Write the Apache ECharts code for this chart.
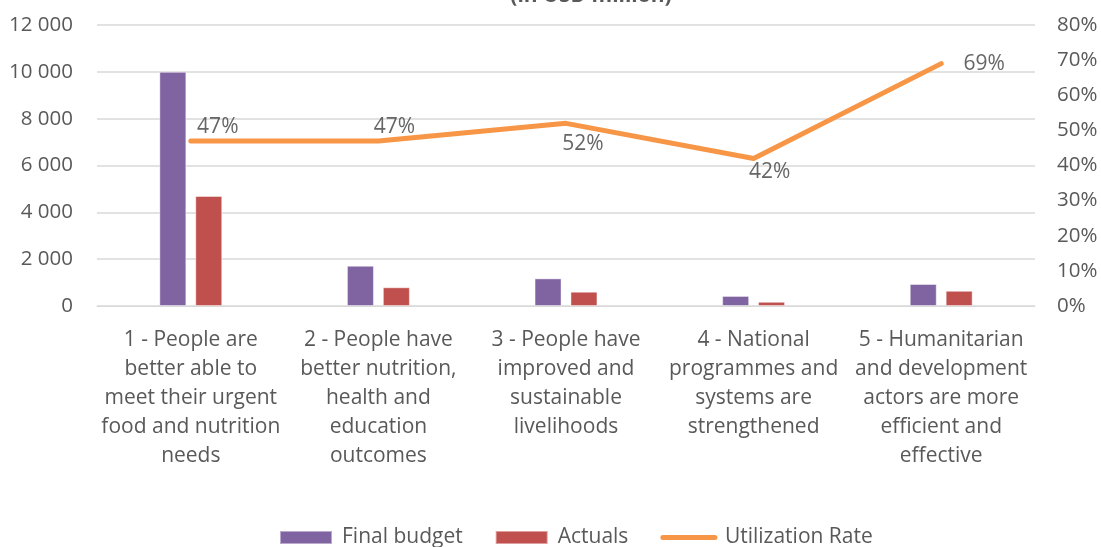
<!DOCTYPE html>
<html>
<head>
<meta charset="utf-8">
<title>Budget and actuals by strategic outcome</title>
<script src="https://cdn.jsdelivr.net/npm/echarts@6/dist/echarts.min.js"></script>
<style>
  html, body { margin: 0; padding: 0; background: #fff; }
  #chart { width: 1101px; height: 547px; }
</style>
</head>
<body>
<div id="chart"></div>
<script>
// Strategic outcomes (line breaks as wrapped under the axis)
const categories = [
  '1 - People are\nbetter able to\nmeet their urgent\nfood and nutrition\nneeds',
  '2 - People have\nbetter nutrition,\nhealth and\neducation\noutcomes',
  '3 - People have\nimproved and\nsustainable\nlivelihoods',
  '4 - National\nprogrammes and\nsystems are\nstrengthened',
  '5 - Humanitarian\nand development\nactors are more\nefficient and\neffective'
];

// USD million
const finalBudget = [10000, 1720, 1180, 430, 940];
const actuals = [4700, 800, 610, 180, 650];

// Utilization rate, percent
const utilizationRate = [47, 47, 52, 42, 69];

// Tick values of the two value axes
const leftTicks = { min: 0, max: 12000, interval: 2000 };
const rightTicks = { min: 0, max: 80, interval: 10 };

// Label placement around each rate point, [dx, dy] in pixels
const rateLabelOffsets = [[27, -14], [16, -14], [17, 21], [16, 14], [43, 0]];

const FONT = '"Open Sans", "Noto Sans", sans-serif';
const TEXT = '#595959';
const RATE_COLOR = '#F79646';

function spaced(v) {
  return String(v).replace(/\B(?=(\d{3})+(?!\d))/g, ' ');
}

const chart = echarts.init(document.getElementById('chart'), null, { renderer: 'canvas' });

chart.setOption({
  animation: false,
  textStyle: { fontFamily: FONT },
  title: {
    text: '(in USD million)',
    left: 586,
    textAlign: 'center',
    top: -19,
    textStyle: { fontFamily: FONT, fontSize: 21, fontWeight: 'bold', color: TEXT }
  },
  grid: { left: 97, right: 66, top: 25, bottom: 241, containLabel: false },
  legend: {
    left: 274,
    top: 522,
    itemWidth: 52,
    itemHeight: 13,
    itemGap: 32,
    textStyle: { fontFamily: FONT, fontSize: 21, color: TEXT, padding: [0, 0, 0, 5] },
    data: [
      { name: 'Final budget', icon: 'rect' },
      { name: 'Actuals', icon: 'rect' },
      {
        name: 'Utilization Rate',
        lineStyle: { width: 5, cap: 'round' },
        itemStyle: { color: 'rgba(0,0,0,0)', borderWidth: 0, opacity: 0 }
      }
    ]
  },
  xAxis: {
    type: 'category',
    data: categories,
    axisLine: { show: true, lineStyle: { color: '#d9d9d9', width: 1 } },
    axisTick: { show: false },
    axisLabel: {
      interval: 0,
      margin: 20,
      fontFamily: FONT,
      fontSize: 21,
      lineHeight: 29,
      color: TEXT,
      align: 'center'
    }
  },
  yAxis: [
    {
      type: 'value',
      min: leftTicks.min,
      max: leftTicks.max,
      interval: leftTicks.interval,
      axisLine: { show: false },
      axisTick: { show: false },
      splitLine: { lineStyle: { color: '#d9d9d9', width: 1.5 } },
      axisLabel: {
        margin: 24,
        fontFamily: FONT,
        fontSize: 20.5,
        color: TEXT,
        formatter: v => spaced(v)
      }
    },
    {
      type: 'value',
      min: rightTicks.min,
      max: rightTicks.max,
      interval: rightTicks.interval,
      axisLine: { show: false },
      axisTick: { show: false },
      splitLine: { show: false },
      axisLabel: {
        margin: 22,
        fontFamily: FONT,
        fontSize: 20.5,
        color: TEXT,
        formatter: '{value}%'
      }
    }
  ],
  series: [
    {
      name: 'Final budget',
      type: 'bar',
      data: finalBudget,
      barWidth: 27,
      barGap: '33%',
      itemStyle: { color: '#8064A2', borderColor: 'rgba(255,255,255,0.45)', borderWidth: 1 }
    },
    {
      name: 'Actuals',
      type: 'bar',
      data: actuals,
      barWidth: 27,
      barGap: '33%',
      itemStyle: { color: '#C0504D', borderColor: 'rgba(255,255,255,0.45)', borderWidth: 1 }
    },
    {
      name: 'Utilization Rate',
      type: 'line',
      yAxisIndex: 1,
      symbol: 'none',
      lineStyle: { color: RATE_COLOR, width: 5, cap: 'round', join: 'round' },
      itemStyle: { color: RATE_COLOR },
      data: utilizationRate
    },
    {
      // value labels of the rate line, placed beside its points
      name: 'rate labels',
      type: 'scatter',
      yAxisIndex: 1,
      symbolSize: 0,
      silent: true,
      z: 5,
      data: utilizationRate.map((v, i) => ({
        value: v,
        label: {
          show: true,
          position: 'inside',
          offset: rateLabelOffsets[i],
          formatter: '{c}%',
          fontFamily: FONT,
          fontSize: 21,
          color: '#404040'
        }
      }))
    }
  ]
});
</script>
</body>
</html>
